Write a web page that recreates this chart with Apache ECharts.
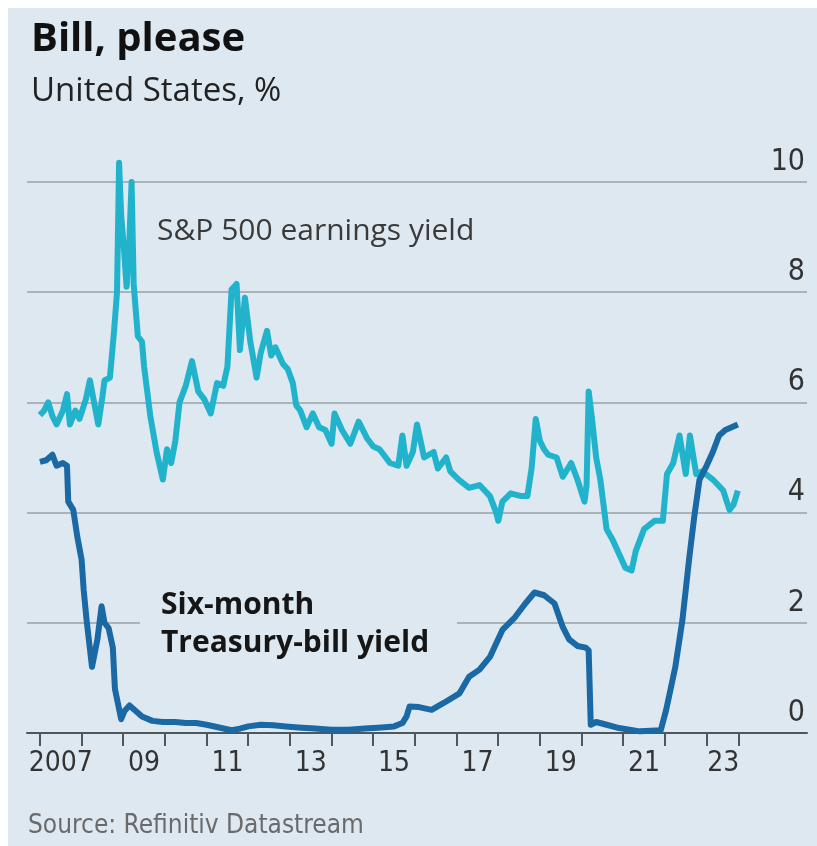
<!DOCTYPE html>
<html>
<head>
<meta charset="utf-8">
<script src="https://cdn.jsdelivr.net/npm/echarts@6/dist/echarts.min.js"></script>
<style>
  html, body { margin: 0; padding: 0; background: #ffffff; }
  #chart { width: 817px; height: 846px; }
</style>
</head>
<body>
<div id="chart"></div>
<script>
// S&P 500 earnings yield, %
var spDates = [2007.00, 2007.10, 2007.20, 2007.30, 2007.40, 2007.55, 2007.65, 2007.72, 2007.85, 2007.95,
  2008.10, 2008.20, 2008.30, 2008.40, 2008.50, 2008.55, 2008.68, 2008.78, 2008.85, 2008.90,
  2008.95, 2009.02, 2009.08, 2009.15, 2009.20, 2009.25, 2009.35, 2009.45, 2009.50, 2009.65,
  2009.80, 2009.95, 2010.05, 2010.15, 2010.25, 2010.35, 2010.50, 2010.65, 2010.80, 2010.95,
  2011.10, 2011.25, 2011.40, 2011.50, 2011.60, 2011.72, 2011.80, 2011.92, 2012.05, 2012.20,
  2012.30, 2012.45, 2012.55, 2012.65, 2012.83, 2012.95, 2013.07, 2013.15, 2013.25, 2013.40,
  2013.55, 2013.70, 2013.85, 2014.00, 2014.07, 2014.25, 2014.45, 2014.65, 2014.85, 2015.00,
  2015.15, 2015.40, 2015.60, 2015.70, 2015.80, 2015.95, 2016.05, 2016.15, 2016.22, 2016.45,
  2016.55, 2016.75, 2016.85, 2017.05, 2017.30, 2017.55, 2017.80, 2017.95, 2018.00, 2018.10,
  2018.30, 2018.55, 2018.70, 2018.80, 2018.90, 2019.00, 2019.10, 2019.20, 2019.40, 2019.55,
  2019.75, 2019.90, 2020.07, 2020.12, 2020.17, 2020.25, 2020.35, 2020.45, 2020.60, 2020.75,
  2020.90, 2021.05, 2021.20, 2021.30, 2021.50, 2021.75, 2021.95, 2022.05, 2022.20, 2022.35,
  2022.50, 2022.60, 2022.75, 2022.90, 2023.15, 2023.40, 2023.55, 2023.65, 2023.75];
var spYield = [5.77, 5.85, 6.00, 5.75, 5.60, 5.85, 6.15, 5.60, 5.85, 5.70,
  6.05, 6.40, 6.00, 5.60, 6.10, 6.40, 6.45, 7.30, 8.00, 10.35,
  9.40, 8.75, 8.10, 9.00, 10.00, 8.15, 7.20, 7.10, 6.65, 5.75,
  5.10, 4.60, 5.15, 4.90, 5.30, 6.00, 6.30, 6.75, 6.20, 6.05,
  5.80, 6.35, 6.30, 6.65, 8.05, 8.15, 6.95, 7.90, 7.10, 6.45,
  6.90, 7.30, 6.85, 7.00, 6.70, 6.60, 6.35, 5.95, 5.85, 5.55,
  5.80, 5.55, 5.50, 5.25, 5.80, 5.50, 5.25, 5.65, 5.35, 5.20,
  5.15, 4.90, 4.85, 5.40, 4.85, 5.10, 5.60, 5.25, 5.00, 5.10,
  4.80, 5.00, 4.75, 4.60, 4.45, 4.50, 4.30, 4.00, 3.85, 4.20,
  4.35, 4.30, 4.30, 4.80, 5.70, 5.30, 5.15, 5.05, 5.00, 4.65,
  4.90, 4.60, 4.20, 4.50, 6.20, 5.70, 5.00, 4.60, 3.70, 3.50,
  3.25, 3.00, 2.95, 3.30, 3.70, 3.85, 3.85, 4.70, 4.90, 5.40,
  4.70, 5.40, 4.70, 4.75, 4.60, 4.40, 4.05, 4.15, 4.40];

// six-month Treasury-bill yield, %
var billDates = [2007.00, 2007.15, 2007.30, 2007.40, 2007.55, 2007.65, 2007.68, 2007.80, 2007.90, 2008.00,
  2008.05, 2008.12, 2008.25, 2008.38, 2008.48, 2008.55, 2008.65, 2008.75, 2008.80, 2008.95,
  2009.03, 2009.15, 2009.30, 2009.45, 2009.70, 2009.95, 2010.25, 2010.50, 2010.75, 2011.00,
  2011.30, 2011.60, 2011.80, 2012.00, 2012.30, 2012.60, 2012.90, 2013.20, 2013.60, 2014.00,
  2014.40, 2014.80, 2015.20, 2015.50, 2015.70, 2015.80, 2015.87, 2016.10, 2016.40, 2016.70,
  2017.07, 2017.30, 2017.55, 2017.80, 2018.10, 2018.40, 2018.65, 2018.87, 2019.10, 2019.35,
  2019.55, 2019.70, 2019.90, 2020.10, 2020.17, 2020.22, 2020.35, 2020.60, 2020.90, 2021.40,
  2021.90, 2022.03, 2022.25, 2022.42, 2022.58, 2022.70, 2022.83, 2023.00, 2023.15, 2023.30,
  2023.45, 2023.75];
var billYield = [4.92, 4.95, 5.05, 4.85, 4.90, 4.85, 4.20, 4.05, 3.55, 3.15,
  2.60, 2.05, 1.20, 1.70, 2.30, 2.00, 1.90, 1.55, 0.80, 0.25,
  0.40, 0.50, 0.40, 0.30, 0.22, 0.20, 0.20, 0.18, 0.18, 0.15,
  0.10, 0.05, 0.08, 0.12, 0.15, 0.14, 0.12, 0.10, 0.08, 0.06,
  0.06, 0.08, 0.10, 0.12, 0.18, 0.30, 0.48, 0.47, 0.42, 0.55,
  0.72, 1.02, 1.15, 1.38, 1.87, 2.10, 2.35, 2.55, 2.50, 2.35,
  1.92, 1.70, 1.58, 1.55, 1.50, 0.15, 0.20, 0.15, 0.09, 0.03,
  0.05, 0.42, 1.20, 2.05, 3.15, 3.90, 4.60, 4.85, 5.10, 5.40,
  5.50, 5.60];

// axis ticks: year boundaries plus the end of the data, labels in mid-year
var yearTicks = [2007, 2008, 2009, 2010, 2011, 2012, 2013, 2014, 2015, 2016,
  2017, 2018, 2019, 2020, 2021, 2022, 2023, 2023.77];
var yearLabels = [2007.5, 2009.5, 2011.5, 2013.5, 2015.5, 2017.5, 2019.5, 2021.5, 2023.4];

function zip(xs, ys) {
  return xs.map(function (x, i) { return [x, ys[i]]; });
}

var bg = '#dde8f1';
var numFont = '"DejaVu Sans Condensed", "Open Sans", sans-serif';

var myChart = echarts.init(document.getElementById('chart'));

var option = {
  backgroundColor: '#ffffff',
  animation: false,
  title: {
    text: 'Bill, please',
    subtext: 'United States, %',
    left: 26,
    top: 15,
    itemGap: 15,
    textStyle: { fontFamily: 'Open Sans', fontSize: 40, fontWeight: 'bold', color: '#111' },
    subtextStyle: { fontFamily: 'Open Sans', fontSize: 33, color: '#222' }
  },
  grid: { left: 27, right: 10, top: 182, bottom: 113, containLabel: false },
  xAxis: {
    type: 'value',
    min: 2006.69,
    max: 2025.41,
    splitLine: { show: false },
    axisLine: { show: true, lineStyle: { color: '#4f575d', width: 2 } },
    axisTick: { show: true, customValues: yearTicks, length: 13, lineStyle: { color: '#4f575d', width: 2 } },
    axisLabel: {
      customValues: yearLabels,
      margin: 17,
      fontFamily: numFont,
      fontSize: 28,
      color: '#333',
      formatter: function (v) {
        var y = Math.floor(v);
        return y === 2007 ? '2007' : String(y % 100).padStart(2, '0');
      }
    }
  },
  yAxis: {
    type: 'value',
    position: 'right',
    min: 0,
    max: 10,
    interval: 2,
    axisLine: { show: false },
    axisTick: { show: false },
    splitLine: { show: true, lineStyle: { color: '#aab3ba', width: 2 } },
    axisLabel: {
      inside: true,
      margin: 2,
      verticalAlign: 'bottom',
      padding: [0, 0, 5, 0],
      fontFamily: numFont,
      fontSize: 30,
      color: '#333'
    }
  },
  graphic: [
    { type: 'rect', z: -10, shape: { x: 8, y: 8, width: 809, height: 838 }, style: { fill: bg }, silent: true },
    // knock the gridline out behind the bill label
    { type: 'rect', z: 1, shape: { x: 140, y: 605, width: 317, height: 34 }, style: { fill: bg }, silent: true },
    { type: 'text', z: 3, left: 157, top: 216,
      style: { text: 'S&P 500 earnings yield', fontFamily: 'Open Sans', fontSize: 30, fill: '#3a3a3a' } },
    { type: 'text', z: 3, left: 161, top: 586,
      style: { text: 'Six-month\nTreasury-bill yield', fontFamily: 'Open Sans', fontSize: 30, fontWeight: 'bold', lineHeight: 38, fill: '#161616' } },
    { type: 'text', z: 3, left: 28, top: 813,
      style: { text: 'Source: Refinitiv Datastream', fontFamily: numFont, fontSize: 26, fill: '#6a6a6a' } }
  ],
  series: [
    {
      name: 'S&P 500 earnings yield',
      type: 'line',
      data: zip(spDates, spYield),
      showSymbol: false,
      clip: false,
      lineStyle: { color: '#22b3cc', width: 6, join: 'round' },
      z: 2
    },
    {
      name: 'Six-month Treasury-bill yield',
      type: 'line',
      data: zip(billDates, billYield),
      showSymbol: false,
      clip: false,
      lineStyle: { color: '#1a69a5', width: 6, join: 'round' },
      z: 3
    }
  ]
};

myChart.setOption(option);
</script>
</body>
</html>
